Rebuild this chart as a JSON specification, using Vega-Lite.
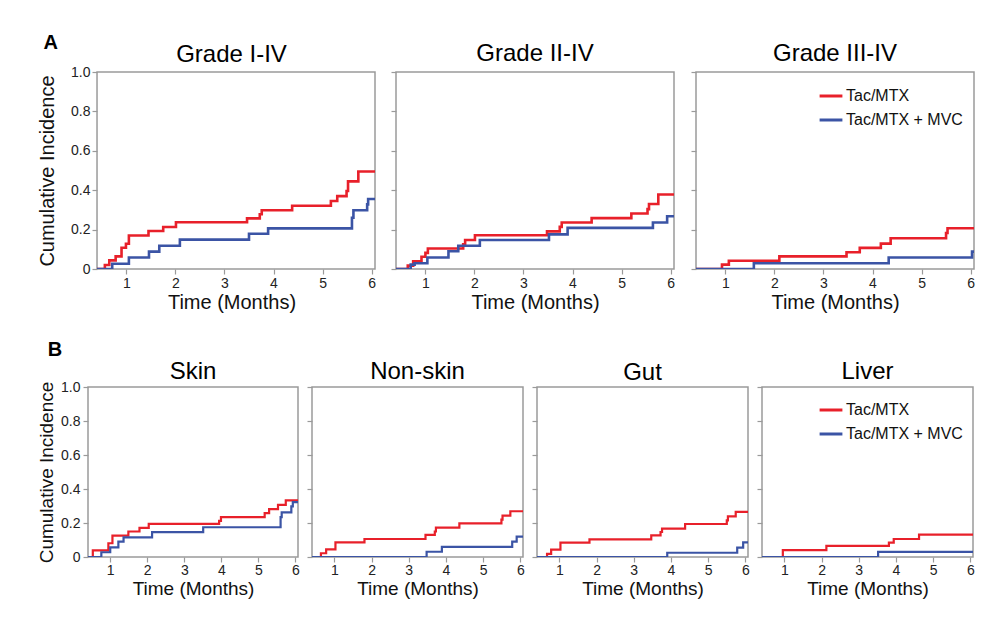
{
"$schema": "https://vega.github.io/schema/vega-lite/v6.json",
"padding": {"left": 36, "top": 32, "right": 5, "bottom": 5},
"config": {
  "font": "Liberation Sans",
  "view": {"stroke": "#9a9a9a", "strokeWidth": 1.5},
  "axis": {"grid": false, "domain": false, "labelOverlap": false, "tickColor": "#9a9a9a", "tickSize": 5, "tickWidth": 1.2, "labelColor": "#222", "labelFontSize": 14, "titleColor": "#111", "titleFontWeight": "normal"},
  "title": {"fontWeight": "normal", "color": "#000"},
  "legend": {"orient": "top-right", "title": null, "symbolType": "stroke", "symbolStrokeWidth": 3, "symbolSize": 520, "labelFontSize": 16, "labelColor": "#111", "rowPadding": 3, "offset": 10, "labelOffset": 2}
},
"data": {"values": [
{"p":"A1","g":"Tac/MTX","t":0.4,"y":0},{"p":"A1","g":"Tac/MTX","t":0.56,"y":0.02},{"p":"A1","g":"Tac/MTX","t":0.65,"y":0.044},{"p":"A1","g":"Tac/MTX","t":0.78,"y":0.064},{"p":"A1","g":"Tac/MTX","t":0.9,"y":0.108},{"p":"A1","g":"Tac/MTX","t":0.99,"y":0.128},{"p":"A1","g":"Tac/MTX","t":1.05,"y":0.17},{"p":"A1","g":"Tac/MTX","t":1.45,"y":0.193},{"p":"A1","g":"Tac/MTX","t":1.75,"y":0.213},{"p":"A1","g":"Tac/MTX","t":2.01,"y":0.237},{"p":"A1","g":"Tac/MTX","t":3.46,"y":0.257},{"p":"A1","g":"Tac/MTX","t":3.72,"y":0.278},{"p":"A1","g":"Tac/MTX","t":3.76,"y":0.298},{"p":"A1","g":"Tac/MTX","t":4.38,"y":0.321},{"p":"A1","g":"Tac/MTX","t":5.17,"y":0.345},{"p":"A1","g":"Tac/MTX","t":5.3,"y":0.37},{"p":"A1","g":"Tac/MTX","t":5.49,"y":0.396},{"p":"A1","g":"Tac/MTX","t":5.52,"y":0.445},{"p":"A1","g":"Tac/MTX","t":5.73,"y":0.495},{"p":"A1","g":"Tac/MTX","t":6.07,"y":0.495},
{"p":"A1","g":"Tac/MTX + MVC","t":0.4,"y":0},{"p":"A1","g":"Tac/MTX + MVC","t":0.71,"y":0.027},{"p":"A1","g":"Tac/MTX + MVC","t":1.05,"y":0.058},{"p":"A1","g":"Tac/MTX + MVC","t":1.46,"y":0.088},{"p":"A1","g":"Tac/MTX + MVC","t":1.67,"y":0.118},{"p":"A1","g":"Tac/MTX + MVC","t":2.09,"y":0.149},{"p":"A1","g":"Tac/MTX + MVC","t":3.5,"y":0.179},{"p":"A1","g":"Tac/MTX + MVC","t":3.89,"y":0.206},{"p":"A1","g":"Tac/MTX + MVC","t":5.6,"y":0.26},{"p":"A1","g":"Tac/MTX + MVC","t":5.63,"y":0.298},{"p":"A1","g":"Tac/MTX + MVC","t":5.91,"y":0.328},{"p":"A1","g":"Tac/MTX + MVC","t":5.93,"y":0.355},{"p":"A1","g":"Tac/MTX + MVC","t":6.07,"y":0.355},
{"p":"A2","g":"Tac/MTX","t":0.4,"y":0},{"p":"A2","g":"Tac/MTX","t":0.64,"y":0.017},{"p":"A2","g":"Tac/MTX","t":0.75,"y":0.039},{"p":"A2","g":"Tac/MTX","t":0.92,"y":0.062},{"p":"A2","g":"Tac/MTX","t":1.0,"y":0.082},{"p":"A2","g":"Tac/MTX","t":1.05,"y":0.104},{"p":"A2","g":"Tac/MTX","t":1.77,"y":0.125},{"p":"A2","g":"Tac/MTX","t":1.81,"y":0.147},{"p":"A2","g":"Tac/MTX","t":2.01,"y":0.171},{"p":"A2","g":"Tac/MTX","t":3.48,"y":0.191},{"p":"A2","g":"Tac/MTX","t":3.74,"y":0.214},{"p":"A2","g":"Tac/MTX","t":3.78,"y":0.236},{"p":"A2","g":"Tac/MTX","t":4.39,"y":0.258},{"p":"A2","g":"Tac/MTX","t":5.2,"y":0.282},{"p":"A2","g":"Tac/MTX","t":5.53,"y":0.304},{"p":"A2","g":"Tac/MTX","t":5.56,"y":0.33},{"p":"A2","g":"Tac/MTX","t":5.75,"y":0.378},{"p":"A2","g":"Tac/MTX","t":6.07,"y":0.378},
{"p":"A2","g":"Tac/MTX + MVC","t":0.4,"y":0},{"p":"A2","g":"Tac/MTX + MVC","t":0.7,"y":0.022},{"p":"A2","g":"Tac/MTX + MVC","t":0.78,"y":0.029},{"p":"A2","g":"Tac/MTX + MVC","t":1.04,"y":0.058},{"p":"A2","g":"Tac/MTX + MVC","t":1.47,"y":0.09},{"p":"A2","g":"Tac/MTX + MVC","t":1.67,"y":0.118},{"p":"A2","g":"Tac/MTX + MVC","t":2.11,"y":0.147},{"p":"A2","g":"Tac/MTX + MVC","t":3.52,"y":0.176},{"p":"A2","g":"Tac/MTX + MVC","t":3.9,"y":0.209},{"p":"A2","g":"Tac/MTX + MVC","t":5.64,"y":0.236},{"p":"A2","g":"Tac/MTX + MVC","t":5.93,"y":0.268},{"p":"A2","g":"Tac/MTX + MVC","t":6.07,"y":0.268},
{"p":"A3","g":"Tac/MTX","t":0.4,"y":0},{"p":"A3","g":"Tac/MTX","t":0.93,"y":0.022},{"p":"A3","g":"Tac/MTX","t":1.07,"y":0.042},{"p":"A3","g":"Tac/MTX","t":2.1,"y":0.064},{"p":"A3","g":"Tac/MTX","t":3.47,"y":0.085},{"p":"A3","g":"Tac/MTX","t":3.74,"y":0.107},{"p":"A3","g":"Tac/MTX","t":4.17,"y":0.129},{"p":"A3","g":"Tac/MTX","t":4.37,"y":0.156},{"p":"A3","g":"Tac/MTX","t":5.5,"y":0.183},{"p":"A3","g":"Tac/MTX","t":5.53,"y":0.207},{"p":"A3","g":"Tac/MTX","t":6.07,"y":0.207},
{"p":"A3","g":"Tac/MTX + MVC","t":0.4,"y":0},{"p":"A3","g":"Tac/MTX + MVC","t":1.58,"y":0.029},{"p":"A3","g":"Tac/MTX + MVC","t":4.33,"y":0.058},{"p":"A3","g":"Tac/MTX + MVC","t":6.03,"y":0.088},{"p":"A3","g":"Tac/MTX + MVC","t":6.07,"y":0.088},
{"p":"B1","g":"Tac/MTX","t":0.4,"y":0},{"p":"B1","g":"Tac/MTX","t":0.53,"y":0.039},{"p":"B1","g":"Tac/MTX","t":0.95,"y":0.081},{"p":"B1","g":"Tac/MTX","t":1.06,"y":0.126},{"p":"B1","g":"Tac/MTX","t":1.49,"y":0.15},{"p":"B1","g":"Tac/MTX","t":1.79,"y":0.171},{"p":"B1","g":"Tac/MTX","t":2.04,"y":0.195},{"p":"B1","g":"Tac/MTX","t":3.94,"y":0.213},{"p":"B1","g":"Tac/MTX","t":3.99,"y":0.234},{"p":"B1","g":"Tac/MTX","t":5.17,"y":0.258},{"p":"B1","g":"Tac/MTX","t":5.29,"y":0.282},{"p":"B1","g":"Tac/MTX","t":5.53,"y":0.307},{"p":"B1","g":"Tac/MTX","t":5.74,"y":0.333},{"p":"B1","g":"Tac/MTX","t":6.07,"y":0.333},
{"p":"B1","g":"Tac/MTX + MVC","t":0.4,"y":0},{"p":"B1","g":"Tac/MTX + MVC","t":0.76,"y":0.028},{"p":"B1","g":"Tac/MTX + MVC","t":1.0,"y":0.057},{"p":"B1","g":"Tac/MTX + MVC","t":1.22,"y":0.091},{"p":"B1","g":"Tac/MTX + MVC","t":1.36,"y":0.116},{"p":"B1","g":"Tac/MTX + MVC","t":2.13,"y":0.146},{"p":"B1","g":"Tac/MTX + MVC","t":3.51,"y":0.175},{"p":"B1","g":"Tac/MTX + MVC","t":5.6,"y":0.234},{"p":"B1","g":"Tac/MTX + MVC","t":5.63,"y":0.262},{"p":"B1","g":"Tac/MTX + MVC","t":5.89,"y":0.298},{"p":"B1","g":"Tac/MTX + MVC","t":5.93,"y":0.323},{"p":"B1","g":"Tac/MTX + MVC","t":6.07,"y":0.323},
{"p":"B2","g":"Tac/MTX","t":0.4,"y":0},{"p":"B2","g":"Tac/MTX","t":0.64,"y":0.022},{"p":"B2","g":"Tac/MTX","t":0.78,"y":0.045},{"p":"B2","g":"Tac/MTX","t":1.03,"y":0.086},{"p":"B2","g":"Tac/MTX","t":1.81,"y":0.106},{"p":"B2","g":"Tac/MTX","t":3.45,"y":0.13},{"p":"B2","g":"Tac/MTX","t":3.7,"y":0.15},{"p":"B2","g":"Tac/MTX","t":3.73,"y":0.173},{"p":"B2","g":"Tac/MTX","t":4.36,"y":0.198},{"p":"B2","g":"Tac/MTX","t":5.49,"y":0.22},{"p":"B2","g":"Tac/MTX","t":5.52,"y":0.243},{"p":"B2","g":"Tac/MTX","t":5.73,"y":0.269},{"p":"B2","g":"Tac/MTX","t":6.07,"y":0.269},
{"p":"B2","g":"Tac/MTX + MVC","t":0.4,"y":0},{"p":"B2","g":"Tac/MTX + MVC","t":3.48,"y":0.031},{"p":"B2","g":"Tac/MTX + MVC","t":3.89,"y":0.059},{"p":"B2","g":"Tac/MTX + MVC","t":5.78,"y":0.09},{"p":"B2","g":"Tac/MTX + MVC","t":5.9,"y":0.12},{"p":"B2","g":"Tac/MTX + MVC","t":6.07,"y":0.12},
{"p":"B3","g":"Tac/MTX","t":0.4,"y":0},{"p":"B3","g":"Tac/MTX","t":0.67,"y":0.018},{"p":"B3","g":"Tac/MTX","t":0.78,"y":0.043},{"p":"B3","g":"Tac/MTX","t":1.03,"y":0.084},{"p":"B3","g":"Tac/MTX","t":1.81,"y":0.104},{"p":"B3","g":"Tac/MTX","t":3.47,"y":0.127},{"p":"B3","g":"Tac/MTX","t":3.72,"y":0.147},{"p":"B3","g":"Tac/MTX","t":3.76,"y":0.167},{"p":"B3","g":"Tac/MTX","t":4.38,"y":0.194},{"p":"B3","g":"Tac/MTX","t":5.5,"y":0.215},{"p":"B3","g":"Tac/MTX","t":5.53,"y":0.239},{"p":"B3","g":"Tac/MTX","t":5.74,"y":0.265},{"p":"B3","g":"Tac/MTX","t":6.07,"y":0.265},
{"p":"B3","g":"Tac/MTX + MVC","t":0.4,"y":0},{"p":"B3","g":"Tac/MTX + MVC","t":3.9,"y":0.025},{"p":"B3","g":"Tac/MTX + MVC","t":5.78,"y":0.055},{"p":"B3","g":"Tac/MTX + MVC","t":5.94,"y":0.086},{"p":"B3","g":"Tac/MTX + MVC","t":6.07,"y":0.086},
{"p":"B4","g":"Tac/MTX","t":0.4,"y":0},{"p":"B4","g":"Tac/MTX","t":0.96,"y":0.041},{"p":"B4","g":"Tac/MTX","t":2.13,"y":0.065},{"p":"B4","g":"Tac/MTX","t":3.81,"y":0.085},{"p":"B4","g":"Tac/MTX","t":3.94,"y":0.106},{"p":"B4","g":"Tac/MTX","t":4.62,"y":0.132},{"p":"B4","g":"Tac/MTX","t":6.07,"y":0.132},
{"p":"B4","g":"Tac/MTX + MVC","t":0.4,"y":0},{"p":"B4","g":"Tac/MTX + MVC","t":3.52,"y":0.03},{"p":"B4","g":"Tac/MTX + MVC","t":6.07,"y":0.03}
]},
"columns": 1,
"spacing": 27,
"resolve": {"legend": {"color": "independent"}},
"concat": [
{
 "title": {"text": "A", "anchor": "start", "frame": "bounds", "fontSize": 20, "fontWeight": "bold", "offset": -11, "dx": 6},
 "spacing": 13,
 "resolve": {"legend": {"color": "independent"}},
 "hconcat": [
  {"width": 287, "height": 197,
   "view": {"stroke": null},
   "title": {"text": "Grade I-IV", "fontSize": 24, "offset": -2, "frame": "group"},
   "layer": [
    {"data": {"values": [{}]},
     "mark": {"type": "rect", "fill": "transparent", "stroke": "#9a9a9a", "strokeWidth": 1.5},
     "encoding": {
      "x": {"datum": 0.4, "type": "quantitative", "axis": {"values": [1,2,3,4,5,6], "format": "d", "title": "Time (Months)", "titleFontSize": 20, "labelPadding": 2, "titlePadding": 2}},
      "x2": {"datum": 6.07},
      "y": {"datum": 0, "type": "quantitative", "axis": {"values": [0,0.2,0.4,0.6,0.8,1], "offset": -9, "labelExpr": "datum.value === 0 ? '0' : format(datum.value, '.1f')", "title": "Cumulative Incidence", "titleFontSize": 20, "labelPadding": 2, "titlePadding": 13}},
      "y2": {"datum": 1}}},
    {"transform": [{"filter": "datum.p === 'A1'"}],
     "mark": {"type": "line", "interpolate": "step-after", "strokeWidth": 2.6, "clip": true},
     "encoding": {
      "x": {"field": "t", "type": "quantitative", "scale": {"domain": [0.216, 6.07], "nice": false, "zero": false}, "axis": {"values": [1,2,3,4,5,6], "format": "d", "title": "Time (Months)", "titleFontSize": 20, "labelPadding": 2, "titlePadding": 2}},
      "y": {"field": "y", "type": "quantitative", "scale": {"domain": [0, 1], "nice": false}, "axis": {"values": [0,0.2,0.4,0.6,0.8,1], "offset": -9, "labelExpr": "datum.value === 0 ? '0' : format(datum.value, '.1f')", "title": "Cumulative Incidence", "titleFontSize": 20, "labelPadding": 2, "titlePadding": 13}},
      "color": {"field": "g", "type": "nominal", "scale": {"domain": ["Tac/MTX", "Tac/MTX + MVC"], "range": ["#e8202a", "#3b54a5"]}, "legend": null}
     }}
   ]},
  {"width": 278, "height": 197,
   "title": {"text": "Grade II-IV", "fontSize": 24, "offset": 5, "frame": "group"},
   "transform": [{"filter": "datum.p === 'A2'"}],
   "mark": {"type": "line", "interpolate": "step-after", "strokeWidth": 2.6, "clip": true},
   "encoding": {
    "x": {"field": "t", "type": "quantitative", "scale": {"domain": [0.4, 6.07], "nice": false, "zero": false}, "axis": {"values": [1,2,3,4,5,6], "format": "d", "title": "Time (Months)", "titleFontSize": 20, "labelPadding": 2, "titlePadding": 2}},
    "y": {"field": "y", "type": "quantitative", "scale": {"domain": [0, 1], "nice": false}, "axis": {"values": [0,0.2,0.4,0.6,0.8,1], "labels": false, "title": null}},
    "color": {"field": "g", "type": "nominal", "scale": {"domain": ["Tac/MTX", "Tac/MTX + MVC"], "range": ["#e8202a", "#3b54a5"]}, "legend": null}
   }},
  {"width": 278, "height": 197,
   "title": {"text": "Grade III-IV", "fontSize": 24, "offset": 5, "frame": "group"},
   "transform": [{"filter": "datum.p === 'A3'"}],
   "mark": {"type": "line", "interpolate": "step-after", "strokeWidth": 2.6, "clip": true},
   "encoding": {
    "x": {"field": "t", "type": "quantitative", "scale": {"domain": [0.4, 6.07], "nice": false, "zero": false}, "axis": {"values": [1,2,3,4,5,6], "format": "d", "title": "Time (Months)", "titleFontSize": 20, "labelPadding": 2, "titlePadding": 2}},
    "y": {"field": "y", "type": "quantitative", "scale": {"domain": [0, 1], "nice": false}, "axis": {"values": [0,0.2,0.4,0.6,0.8,1], "labels": false, "title": null}},
    "color": {"field": "g", "type": "nominal", "scale": {"domain": ["Tac/MTX", "Tac/MTX + MVC"], "range": ["#e8202a", "#3b54a5"]}, "legend": {"orient": "top-right", "offset": 11}}
   }}
 ]
},
{
 "title": {"text": "B", "anchor": "start", "frame": "bounds", "fontSize": 20, "fontWeight": "bold", "offset": -1, "dx": 11},
 "spacing": 4,
 "resolve": {"legend": {"color": "independent"}},
 "hconcat": [
  {"width": 210, "height": 170,
   "title": {"text": "Skin", "fontSize": 24, "offset": -4, "frame": "group"},
   "transform": [{"filter": "datum.p === 'B1'"}],
   "mark": {"type": "line", "interpolate": "step-after", "strokeWidth": 2.2, "clip": true},
   "encoding": {
    "x": {"field": "t", "type": "quantitative", "scale": {"domain": [0.4, 6.07], "nice": false, "zero": false}, "axis": {"values": [1,2,3,4,5,6], "format": "d", "title": "Time (Months)", "titleFontSize": 19, "labelPadding": 1, "titlePadding": 2}},
    "y": {"field": "y", "type": "quantitative", "scale": {"domain": [0, 1], "nice": false}, "axis": {"values": [0,0.2,0.4,0.6,0.8,1], "labelExpr": "datum.value === 0 ? '0' : format(datum.value, '.1f')", "title": "Cumulative Incidence", "titleFontSize": 19, "labelPadding": 3, "titlePadding": 4}},
    "color": {"field": "g", "type": "nominal", "scale": {"domain": ["Tac/MTX", "Tac/MTX + MVC"], "range": ["#e8202a", "#3b54a5"]}, "legend": null}
   }},
  {"width": 211, "height": 170,
   "title": {"text": "Non-skin", "fontSize": 24, "offset": 2, "frame": "group"},
   "transform": [{"filter": "datum.p === 'B2'"}],
   "mark": {"type": "line", "interpolate": "step-after", "strokeWidth": 2.2, "clip": true},
   "encoding": {
    "x": {"field": "t", "type": "quantitative", "scale": {"domain": [0.4, 6.07], "nice": false, "zero": false}, "axis": {"values": [1,2,3,4,5,6], "format": "d", "title": "Time (Months)", "titleFontSize": 19, "labelPadding": 1, "titlePadding": 2}},
    "y": {"field": "y", "type": "quantitative", "scale": {"domain": [0, 1], "nice": false}, "axis": {"values": [0,0.2,0.4,0.6,0.8,1], "labels": false, "title": null}},
    "color": {"field": "g", "type": "nominal", "scale": {"domain": ["Tac/MTX", "Tac/MTX + MVC"], "range": ["#e8202a", "#3b54a5"]}, "legend": null}
   }},
  {"width": 211, "height": 170,
   "title": {"text": "Gut", "fontSize": 24, "offset": 1, "frame": "group"},
   "transform": [{"filter": "datum.p === 'B3'"}],
   "mark": {"type": "line", "interpolate": "step-after", "strokeWidth": 2.2, "clip": true},
   "encoding": {
    "x": {"field": "t", "type": "quantitative", "scale": {"domain": [0.4, 6.07], "nice": false, "zero": false}, "axis": {"values": [1,2,3,4,5,6], "format": "d", "title": "Time (Months)", "titleFontSize": 19, "labelPadding": 1, "titlePadding": 2}},
    "y": {"field": "y", "type": "quantitative", "scale": {"domain": [0, 1], "nice": false}, "axis": {"values": [0,0.2,0.4,0.6,0.8,1], "labels": false, "title": null}},
    "color": {"field": "g", "type": "nominal", "scale": {"domain": ["Tac/MTX", "Tac/MTX + MVC"], "range": ["#e8202a", "#3b54a5"]}, "legend": null}
   }},
  {"width": 211, "height": 170,
   "title": {"text": "Liver", "fontSize": 24, "offset": 2, "frame": "group"},
   "transform": [{"filter": "datum.p === 'B4'"}],
   "mark": {"type": "line", "interpolate": "step-after", "strokeWidth": 2.2, "clip": true},
   "encoding": {
    "x": {"field": "t", "type": "quantitative", "scale": {"domain": [0.4, 6.07], "nice": false, "zero": false}, "axis": {"values": [1,2,3,4,5,6], "format": "d", "title": "Time (Months)", "titleFontSize": 19, "labelPadding": 1, "titlePadding": 2}},
    "y": {"field": "y", "type": "quantitative", "scale": {"domain": [0, 1], "nice": false}, "axis": {"values": [0,0.2,0.4,0.6,0.8,1], "labels": false, "title": null}},
    "color": {"field": "g", "type": "nominal", "scale": {"domain": ["Tac/MTX", "Tac/MTX + MVC"], "range": ["#e8202a", "#3b54a5"]}, "legend": {"orient": "top-right", "offset": 10}}
   }}
 ]
}
]
}
